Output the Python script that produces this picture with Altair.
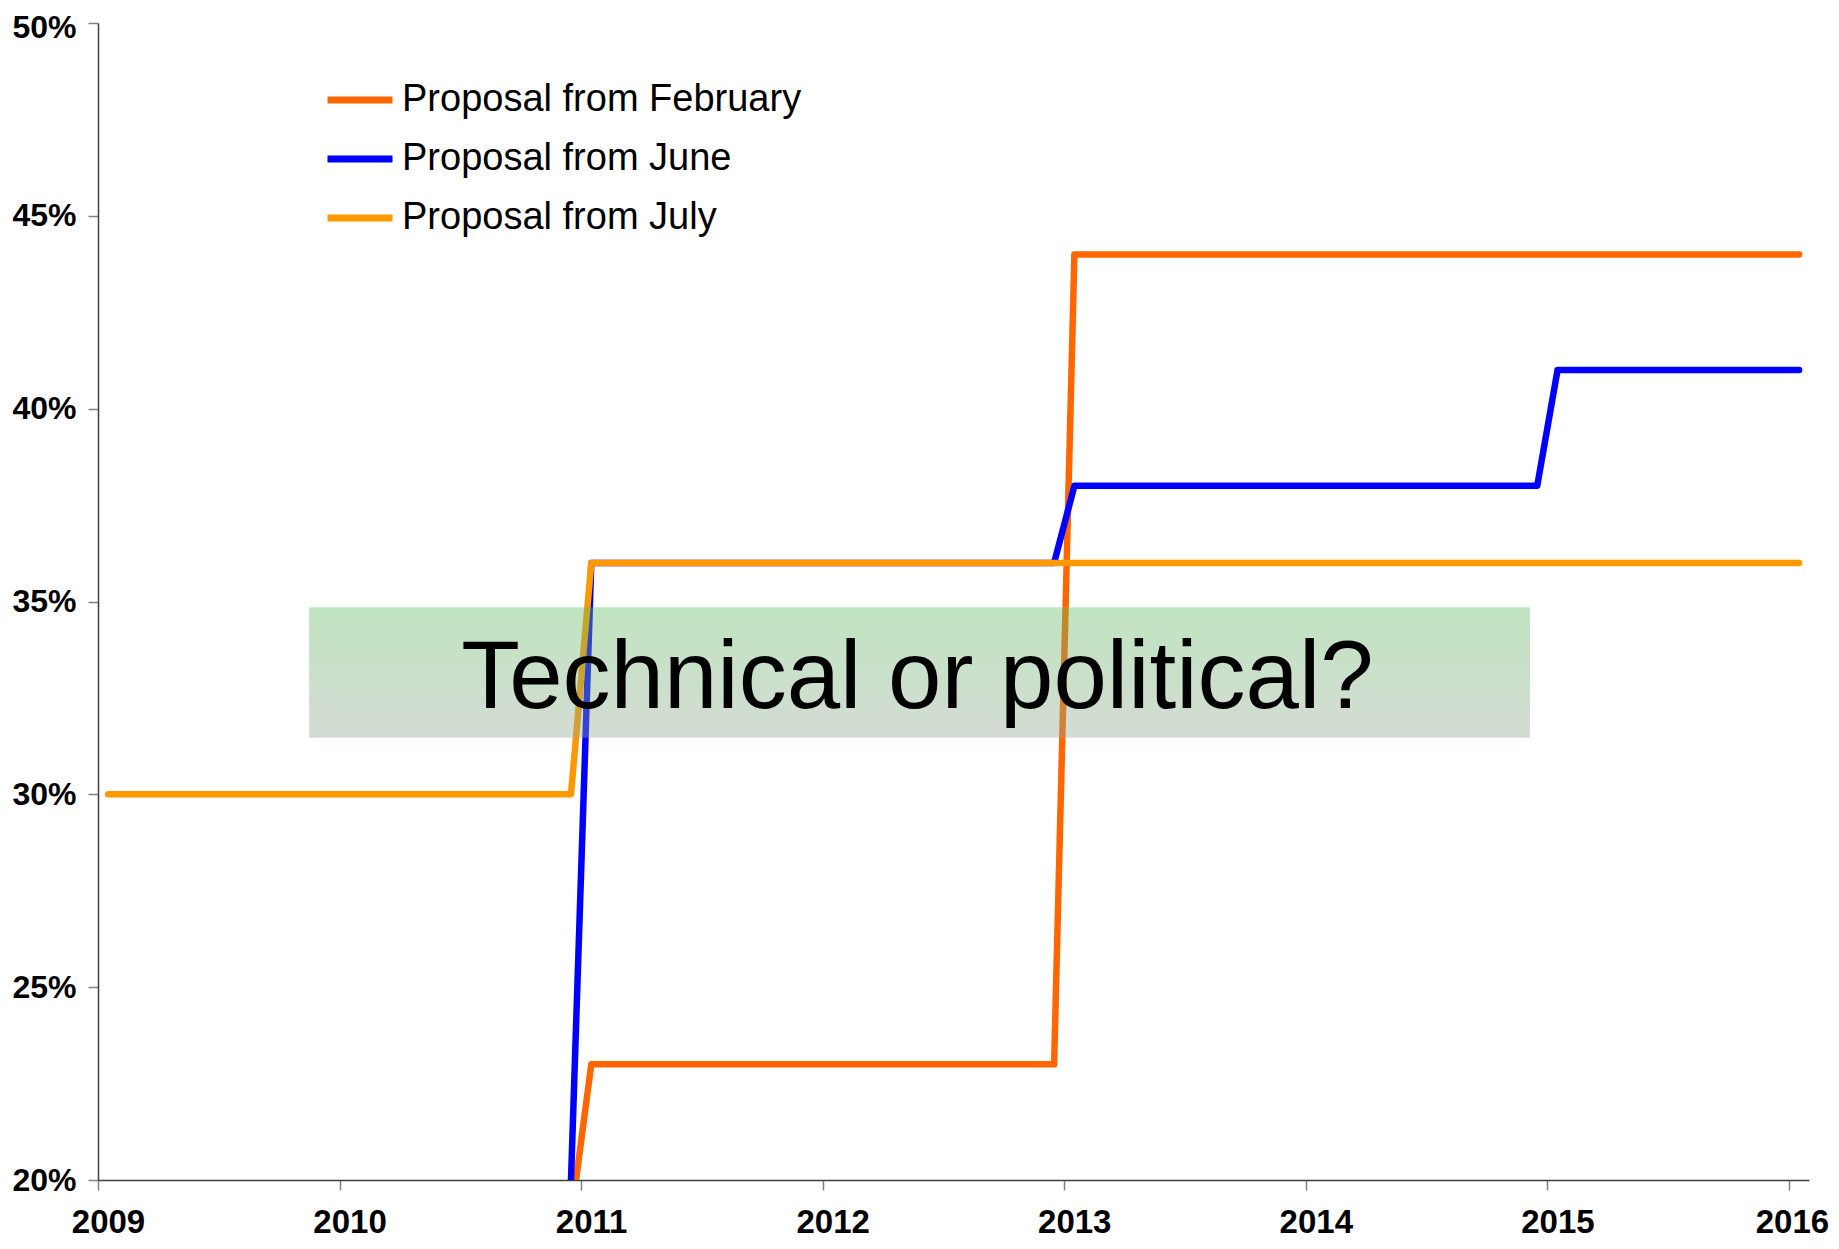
import altair as alt
import pandas as pd

# ---- data ----
series_names = ["Proposal from February", "Proposal from June", "Proposal from July"]
series_colors = ["#ff6600", "#0000ff", "#ff9900"]

# break points (decimal year at mid-month, share)
feb_x = [2010.958, 2011.042, 2012.958, 2013.042, 2016.042]
feb_y = [0.19, 0.23, 0.23, 0.44, 0.44]

jun_x = [2010.958, 2011.042, 2012.958, 2013.042, 2014.958, 2015.042, 2016.042]
jun_y = [0.20, 0.36, 0.36, 0.38, 0.38, 0.41, 0.41]

jul_x = [2009.042, 2010.958, 2011.042, 2016.042]
jul_y = [0.30, 0.30, 0.36, 0.36]

year_ticks = [2009, 2010, 2011, 2012, 2013, 2014, 2015, 2016]
pct_ticks = [0.20, 0.25, 0.30, 0.35, 0.40, 0.45, 0.50]

# annotation box and its caption (data coordinates)
box_x = [2009.874]
box_x2 = [2014.928]
box_y = [0.3485]
box_y2 = [0.3147]
caption = ["Technical or political?"]
caption_x = [2012.392]
caption_y = [0.3224]

FONT = "Liberation Sans"

rows = []
for name, xs, ys in zip(series_names, [feb_x, jun_x, jul_x], [feb_y, jun_y, jul_y]):
    for i, (a, b) in enumerate(zip(xs, ys)):
        rows.append({"series": name, "year": a, "value": b, "idx": i})
lines_df = pd.DataFrame(rows)

box_df = pd.DataFrame({"x": box_x, "x2": box_x2, "y": box_y, "y2": box_y2})
text_df = pd.DataFrame({"x": caption_x, "y": caption_y, "t": caption})

xscale = alt.Scale(domain=[2009, 2016.083], nice=False, zero=False)
yscale = alt.Scale(domain=[0.20, 0.50], nice=False, zero=False)

xaxis = alt.Axis(values=year_ticks, format="d", title=None, grid=False,
                 labelFont=FONT, labelFontSize=33, labelFontWeight="bold", labelColor="black",
                 labelBaseline="alphabetic",
                 labelOffset={"condition": {"test": "datum.value >= 2016", "value": 3}, "value": 10},
                 tickSize=10, tickColor="#808080", tickWidth=1.5,
                 domainColor="#404040", domainWidth=1.5, labelPadding=42,
                 labelFlush=False, labelOverlap=False)
yaxis = alt.Axis(values=pct_ticks, format=".0%", title=None, grid=False,
                 labelFont=FONT, labelFontSize=32, labelFontWeight="bold", labelColor="black",
                 labelOffset={"condition": {"test": "datum.value >= 0.499", "value": 4}, "value": 0},
                 tickSize=10, tickColor="#808080", tickWidth=1.5,
                 domainColor="#404040", domainWidth=1.5, labelPadding=12,
                 labelFlush=False, labelOverlap=False)

color = alt.Color("series:N",
                  scale=alt.Scale(domain=series_names, range=series_colors),
                  legend=alt.Legend(title=None, orient="none", legendX=226, legendY=41,
                                    symbolType="stroke", symbolStrokeWidth=7, symbolSize=4225,
                                    labelFont=FONT, labelFontSize=38, labelColor="black",
                                    labelOffset=6, labelLimit=1000, rowPadding=4, padding=0))

base = alt.Chart(lines_df).mark_line(strokeWidth=6.5, clip=True, strokeJoin="round", strokeCap="round").encode(
    x=alt.X("year:Q", scale=xscale, axis=xaxis),
    y=alt.Y("value:Q", scale=yscale, axis=yaxis),
    color=color,
    order="idx:Q",
)

layers = [base.transform_filter(alt.datum.series == n) for n in series_names]

box = alt.Chart(box_df).mark_rect(
    opacity=0.4,
    fill=alt.Gradient(gradient="linear",
                      stops=[alt.GradientStop(color="#61bb61", offset=0),
                             alt.GradientStop(color="#93a793", offset=1)],
                      x1=0, x2=0, y1=0, y2=1),
).encode(x="x:Q", x2="x2:Q", y="y:Q", y2="y2:Q")

text = alt.Chart(text_df).mark_text(font=FONT, fontSize=96, align="center",
                                     baseline="alphabetic", color="black").encode(
    x="x:Q", y="y:Q", text="t:N")

chart = alt.layer(*layers, box, text).properties(
    width=1711, height=1157,
    autosize=alt.AutoSizeParams(type="none"),
    padding={"left": 90, "top": 15, "right": 22, "bottom": 60},
).configure_view(strokeWidth=0)

chart.save("out.html", embed_options={"renderer": "svg", "actions": False})
